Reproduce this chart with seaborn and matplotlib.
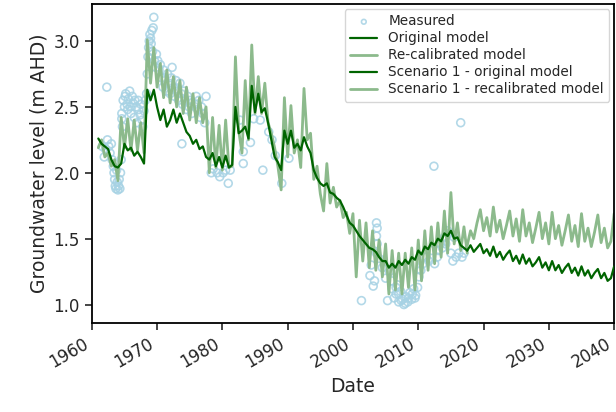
import numpy as np
import pandas as pd
import matplotlib
matplotlib.use("Agg")
import matplotlib.pyplot as plt
import seaborn as sns

# ---- data ----
# model series, half-year steps starting 1961.0
orig_start = 1961.0
original_model = [
    2.26, 2.22, 2.20, 2.18, 2.10, 2.05, 2.04, 2.07, 2.22, 2.17,
    2.19, 2.13, 2.16, 2.12, 2.07, 2.63, 2.55, 2.63, 2.50, 2.40,
    2.48, 2.35, 2.40, 2.48, 2.38, 2.45, 2.38, 2.31, 2.28, 2.22,
    2.25, 2.18, 2.20, 2.12, 2.10, 2.15, 2.05, 2.12, 2.04, 2.13,
    2.04, 2.06, 2.50, 2.30, 2.32, 2.35, 2.26, 2.66, 2.46, 2.60,
    2.46, 2.49, 2.38, 2.25, 2.12, 2.08, 2.02, 2.32, 2.22, 2.32,
    2.19, 2.22, 2.17, 2.27, 2.20, 2.15, 2.02, 1.96, 1.92, 1.90,
    1.92, 1.85, 1.84, 1.81, 1.79, 1.74, 1.68, 1.62, 1.60, 1.56,
    1.52, 1.49, 1.46, 1.43, 1.42, 1.40, 1.36, 1.33, 1.33, 1.28,
    1.31, 1.28, 1.33, 1.30, 1.34, 1.31, 1.36, 1.34, 1.41, 1.38,
    1.44, 1.42, 1.47, 1.45, 1.50, 1.48, 1.54, 1.52, 1.56, 1.50,
    1.51, 1.45, 1.43, 1.41,
]
recalibrated_model = [
    2.19, 2.25, 2.12, 2.15, 2.05, 2.10, 1.94, 2.42, 2.19, 2.41,
    2.17, 2.40, 2.17, 2.38, 2.15, 3.01, 2.68, 2.95, 2.65, 2.83,
    2.57, 2.78, 2.53, 2.73, 2.50, 2.70, 2.45, 2.65, 2.40, 2.60,
    2.38, 2.57, 2.38, 2.50, 2.00, 2.42, 2.04, 2.36, 2.02, 2.40,
    2.04, 2.05, 2.88, 2.32, 2.15, 2.70, 2.25, 2.97, 2.45, 2.73,
    2.45, 2.68, 2.38, 2.30, 2.19, 2.05, 1.87, 2.57, 2.12, 2.51,
    2.15, 2.25, 2.04, 2.64, 2.25, 2.30, 1.95, 2.05, 1.84, 1.71,
    2.07, 1.77, 1.89, 1.74, 1.79, 1.66, 1.70, 1.54, 1.69, 1.21,
    1.64, 1.33, 1.62, 1.28, 1.56, 1.26, 1.49, 1.21, 1.46, 1.08,
    1.41, 1.11, 1.39, 1.08, 1.39, 1.13, 1.43, 1.11, 1.49, 1.18,
    1.56, 1.26, 1.59, 1.31, 1.62, 1.36, 1.71, 1.39, 1.85, 1.46,
    1.62, 1.41, 1.59, 1.39,
]

# scenario series, half-year steps starting 2017.5
scen_start = 2017.5
scenario_original = [
    1.41, 1.45, 1.40, 1.43, 1.46, 1.39, 1.42, 1.37, 1.44, 1.36,
    1.40, 1.34, 1.38, 1.41, 1.33, 1.37, 1.31, 1.38, 1.31, 1.35,
    1.29, 1.32, 1.36, 1.28, 1.32, 1.26, 1.33, 1.26, 1.30, 1.24,
    1.28, 1.31, 1.24, 1.28, 1.22, 1.29, 1.22, 1.26, 1.20, 1.24,
    1.27, 1.20, 1.24, 1.18, 1.20, 1.29,
]
scenario_recalibrated = [
    1.45, 1.56, 1.50, 1.62, 1.72, 1.56, 1.66, 1.52, 1.74, 1.55,
    1.64, 1.50, 1.60, 1.71, 1.52, 1.65, 1.48, 1.72, 1.52, 1.62,
    1.47, 1.58, 1.70, 1.50, 1.62, 1.46, 1.70, 1.50, 1.60, 1.45,
    1.56, 1.68, 1.48, 1.60, 1.44, 1.69, 1.48, 1.58, 1.44, 1.55,
    1.68, 1.47, 1.58, 1.43, 1.48, 1.69,
]

# measured groundwater levels (decimal year, m AHD)
measured_year = [
    1961.6, 1961.9, 1962.1, 1962.3, 1962.4, 1962.6, 1962.8, 1963.0, 1963.1, 1963.3,
    1963.4, 1963.5, 1963.6, 1963.7, 1963.8, 1963.9, 1964.0, 1964.1, 1964.2, 1964.3,
    1964.4, 1964.5, 1964.6, 1964.7,
    1964.6, 1964.8, 1965.0, 1965.1, 1965.2, 1965.4, 1965.5, 1965.6, 1965.8, 1965.9,
    1966.0, 1966.2, 1966.3, 1966.5, 1966.6, 1966.8, 1966.9, 1967.1, 1967.2, 1967.4,
    1967.5, 1967.7, 1967.8, 1968.0, 1968.2, 1968.4,
    1968.5, 1968.6, 1968.7, 1968.8, 1968.9, 1969.0, 1969.1, 1969.2, 1969.3, 1969.4,
    1969.5, 1969.6, 1969.8, 1969.9,
    1970.1, 1970.3, 1970.5, 1970.7, 1970.9, 1971.0, 1971.2, 1971.4, 1971.6, 1971.8,
    1972.0, 1972.2, 1972.3, 1972.5, 1972.7, 1972.9, 1973.1, 1973.3, 1973.5, 1973.7,
    1973.8, 1973.9, 1974.1, 1974.3, 1974.5, 1974.7, 1974.9, 1975.1, 1975.3,
    1975.8, 1976.0, 1976.2, 1976.4, 1976.6, 1976.8, 1977.0, 1977.3, 1977.5,
    1978.3, 1978.6, 1979.2, 1979.6, 1980.1, 1980.5, 1980.9, 1981.2,
    1982.7, 1983.2, 1983.2, 1984.3, 1984.8, 1985.8, 1986.2, 1987.1, 1987.6, 1988.1,
    1989.1, 1990.2,
    2001.3, 2003.6, 2003.7, 2003.6, 2003.7, 2003.6, 2002.8, 2002.6, 2003.3, 2003.1,
    2004.0, 2004.5, 2005.0, 2005.3, 2005.6, 2006.0, 2006.3, 2006.6, 2006.8, 2007.0,
    2007.3, 2007.6, 2007.8, 2008.1, 2008.4, 2008.7, 2009.0, 2009.3, 2009.6, 2009.9,
    2005.9, 2006.6, 2007.0, 2007.4, 2008.0, 2008.5, 2009.1, 2009.5, 2010.1, 2010.4,
    2010.7, 2011.2, 2011.6, 2012.1, 2012.4, 2012.5, 2012.9, 2013.1, 2013.4, 2013.7,
    2014.0, 2014.2, 2014.5, 2014.7, 2015.0, 2015.3, 2015.5, 2015.8, 2016.2, 2016.5,
    2016.7, 2017.0,
]
measured_level = [
    2.20, 2.12, 2.18, 2.65, 2.25, 2.20, 2.15, 2.22, 2.10, 2.05,
    2.00, 1.95, 1.90, 1.88, 2.02, 1.93, 1.87, 1.90, 1.95, 1.88,
    2.00, 2.10, 2.41, 2.35,
    2.45, 2.55, 2.50, 2.58, 2.60, 2.52, 2.48, 2.56, 2.62, 2.50,
    2.45, 2.58, 2.53, 2.42, 2.55, 2.50, 2.38, 2.55, 2.48, 2.44,
    2.52, 2.40, 2.35, 2.47, 2.55, 2.60,
    2.75, 2.88, 2.95, 3.00, 3.05, 3.02, 2.98, 3.08, 2.92, 3.10,
    3.18, 2.85, 2.80, 2.90,
    2.85, 2.78, 2.82, 2.72, 2.65, 2.78, 2.70, 2.62, 2.75, 2.68,
    2.60, 2.72, 2.80, 2.65, 2.58, 2.70, 2.62, 2.55, 2.68, 2.60,
    2.22, 2.52, 2.62, 2.55, 2.48, 2.58, 2.50, 2.55, 2.45,
    2.52, 2.58, 2.48, 2.55, 2.42, 2.50, 2.45, 2.38, 2.58,
    2.00, 2.03, 2.00, 1.97, 2.00, 2.02, 1.92, 2.02,
    2.40, 2.16, 2.07, 2.23, 2.41, 2.40, 2.02, 2.31, 2.25, 2.13,
    1.92, 2.11,
    1.03, 1.62, 1.58, 1.52, 1.46, 1.39, 1.30, 1.22, 1.18, 1.14,
    1.35, 1.28, 1.20, 1.03, 1.25, 1.12, 1.05, 1.08, 1.15, 1.02,
    1.10, 1.04, 1.00, 1.06, 1.02, 1.09, 1.04, 1.12, 1.07, 1.13,
    1.18, 1.13, 1.08, 1.03, 1.01, 1.05, 1.08, 1.05, 1.21, 1.26,
    1.31, 1.36, 1.33, 1.41, 2.05, 1.31, 1.36, 1.41, 1.46, 1.43,
    1.51, 1.46, 1.56, 1.54, 1.39, 1.33, 1.51, 1.36, 1.39, 2.38,
    1.36, 1.39,
]

model_years = orig_start + 0.5 * np.arange(len(original_model))
scen_years = scen_start + 0.5 * np.arange(len(scenario_original))

dark = "darkgreen"
light = "#8cba8c"

sns.set_style("ticks")
plt.rcParams["font.family"] = ["DejaVu Sans"]

fig, ax = plt.subplots(figsize=(6.16, 4.12), dpi=100)

sns.scatterplot(x=measured_year, y=measured_level, ax=ax, marker="o",
                facecolor="none", edgecolor="#a6d2e4", linewidth=1.2,
                s=32, alpha=0.85, label="Measured", zorder=1)
sns.lineplot(x=model_years, y=original_model, ax=ax, color=dark, lw=1.6,
             sort=False, estimator=None, label="Original model", zorder=4)
sns.lineplot(x=model_years, y=recalibrated_model, ax=ax, color=light, lw=2.0,
             sort=False, estimator=None, label="Re-calibrated model", zorder=2)
sns.lineplot(x=scen_years, y=scenario_original, ax=ax, color=dark, lw=1.6,
             sort=False, estimator=None, label="Scenario 1 - original model", zorder=4)
sns.lineplot(x=scen_years, y=scenario_recalibrated, ax=ax, color=light, lw=2.0,
             sort=False, estimator=None, label="Scenario 1 - recalibrated model", zorder=2)

ax.set_xlim(1960, 2040)
ax.set_ylim(0.86, 3.28)
ax.set_xticks(np.arange(1960, 2041, 10))
ax.set_xticklabels([str(y) for y in range(1960, 2041, 10)], rotation=30, ha="right")
ax.set_yticks([1.0, 1.5, 2.0, 2.5, 3.0])
ax.tick_params(axis="both", labelsize=12, length=5, width=1.2, direction="out")
ax.set_xlabel("Date", fontsize=13.5)
ax.set_ylabel("Groundwater level (m AHD)", fontsize=13.5)
for sp in ax.spines.values():
    sp.set_color("black")
    sp.set_linewidth(1.3)

leg = ax.legend(loc="upper right", fontsize=9.8, frameon=True, handlelength=2.0,
                borderaxespad=0.35, labelspacing=0.22, markerscale=0.6)
leg.get_frame().set_edgecolor("#cccccc")

plt.subplots_adjust(left=0.149, right=0.997, top=0.99, bottom=0.216)
plt.savefig("out.png", dpi=100)
